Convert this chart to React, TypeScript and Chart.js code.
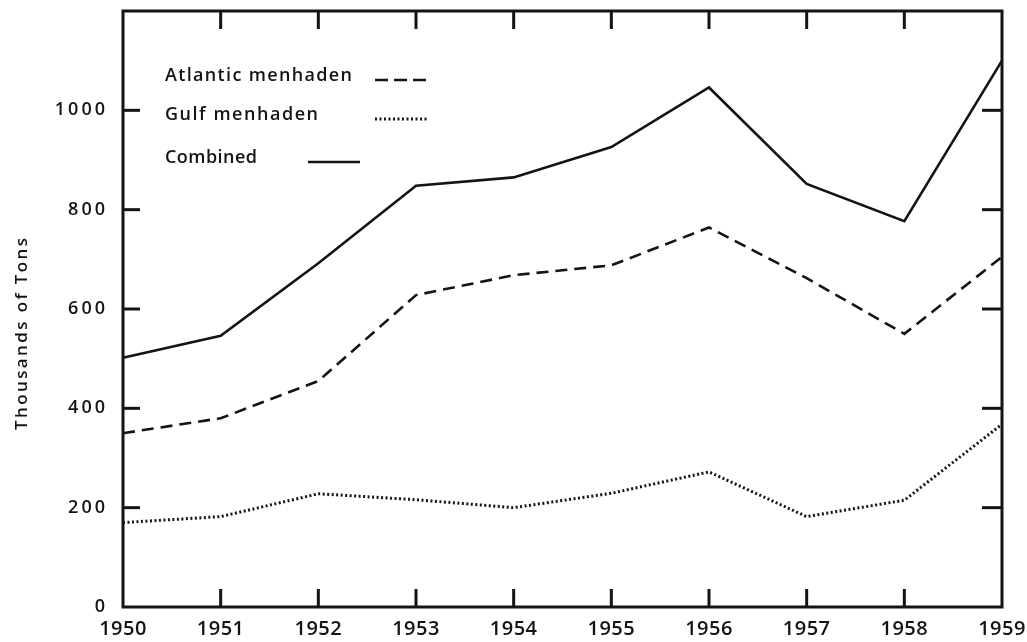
import React, { useEffect, useRef } from "react";
import { Chart, registerables } from "chart.js";

Chart.register(...registerables);

const years = ["1950", "1951", "1952", "1953", "1954", "1955", "1956", "1957", "1958", "1959"];
const atlantic = [350, 380, 455, 628, 668, 688, 764, 662, 550, 705];
const gulf = [170, 182, 228, 216, 200, 229, 272, 182, 215, 368];
const combined = [502, 546, 692, 848, 865, 926, 1046, 852, 777, 1100];
const yTickValues = [0, 200, 400, 600, 800, 1000, 1200];
const legendLabels = ["Atlantic menhaden", "Gulf menhaden", "Combined"];
const yTitle = "Thousands of Tons";

const INK = "#141414";
const FONT = "'Open Sans', 'DejaVu Sans', sans-serif";
const WEIGHT = "600";

// draw text stretched (via letter spacing) to a target width
function fitText(ctx: any, text: string, x: number, y: number, target: number) {
  ctx.letterSpacing = "0px";
  const w = ctx.measureText(text).width;
  const n = Math.max(1, text.length - 1);
  const sp = Math.max(0, (target - w) / n);
  ctx.letterSpacing = sp + "px";
  ctx.fillText(text, x, y);
  ctx.letterSpacing = "0px";
}

const framePlugin = {
  id: "frameAndLabels",
  beforeDraw(chart: any) {
    chart.ctx.letterSpacing = "0.5px";
  },
  afterDatasetsDraw(chart: any) {
    chart.ctx.letterSpacing = "3px";
  },
  afterDraw(chart: any) {
    const ctx = chart.ctx;
    const { left, right, top, bottom } = chart.chartArea;
    ctx.save();
    ctx.letterSpacing = "0px";
    ctx.strokeStyle = INK;
    ctx.setLineDash([]);
    ctx.lineCap = "butt";
    ctx.lineWidth = 3;
    ctx.strokeRect(left, top, right - left, bottom - top);
    const seg = (x1: number, y1: number, x2: number, y2: number) => {
      ctx.beginPath();
      ctx.moveTo(x1, y1);
      ctx.lineTo(x2, y2);
      ctx.stroke();
    };
    const xs = chart.scales.x;
    for (let i = 1; i < years.length - 1; i++) {
      const px = xs.getPixelForValue(i);
      seg(px, top, px, top + 18);
      seg(px, bottom, px, bottom - 18);
    }
    const ys = chart.scales.y;
    for (const v of yTickValues) {
      if (v <= 0 || v >= 1200) continue;
      const py = ys.getPixelForValue(v);
      seg(left, py, left + 17, py);
      seg(right - 20, py, right, py);
    }

    // legend
    ctx.fillStyle = INK;
    ctx.font = WEIGHT + " 18px " + FONT;
    ctx.textAlign = "left";
    ctx.textBaseline = "alphabetic";
    fitText(ctx, legendLabels[0], 165, 81, 187);
    fitText(ctx, legendLabels[1], 165, 120, 153);
    fitText(ctx, legendLabels[2], 165, 163, 92);
    ctx.lineWidth = 2.6;
    ctx.setLineDash([13, 6]);
    seg(375, 80, 428, 80);
    ctx.setLineDash([2, 2.5]);
    ctx.lineWidth = 3;
    seg(375, 119, 428, 119);
    ctx.setLineDash([]);
    ctx.lineWidth = 2.6;
    seg(308, 162, 360, 162);

    // y title
    ctx.translate(22, 430);
    ctx.rotate(-Math.PI / 2);
    ctx.font = WEIGHT + " 17px " + FONT;
    ctx.textAlign = "left";
    ctx.textBaseline = "middle";
    fitText(ctx, yTitle, 0, 0, 192);
    ctx.restore();
    ctx.letterSpacing = "0px";
  },
};

export default function App() {
  const ref = useRef<HTMLCanvasElement | null>(null);
  useEffect(() => {
    if (!ref.current) return;
    const chart = new Chart(ref.current, {
      type: "line",
      data: {
        labels: years,
        datasets: [
          {
            label: legendLabels[0],
            data: atlantic,
            borderColor: INK,
            borderWidth: 2.6,
            borderDash: [12, 7],
            pointRadius: 0,
            tension: 0,
            fill: false,
          },
          {
            label: legendLabels[1],
            data: gulf,
            borderColor: INK,
            borderWidth: 3,
            borderDash: [2, 2.5],
            pointRadius: 0,
            tension: 0,
            fill: false,
          },
          {
            label: legendLabels[2],
            data: combined,
            borderColor: INK,
            borderWidth: 2.6,
            pointRadius: 0,
            tension: 0,
            fill: false,
          },
        ],
      },
      options: {
        responsive: false,
        animation: false,
        layout: { autoPadding: false, padding: { left: 0, top: 11, right: 25, bottom: 0 } },
        plugins: {
          legend: { display: false },
          tooltip: { enabled: false },
          title: { display: false },
        },
        scales: {
          x: {
            type: "category",
            offset: false,
            grid: { display: false, drawTicks: false },
            border: { display: false },
            ticks: {
              z: 0,
              color: INK,
              font: { family: FONT, size: 20, weight: WEIGHT },
              padding: 10,
              maxRotation: 0,
              autoSkip: false,
            },
            afterFit: (s: any) => {
              s.height = 35;
              s.paddingLeft = 0;
              s.paddingRight = 0;
            },
          },
          y: {
            min: 0,
            max: 1200,
            grid: { display: false, drawTicks: false },
            border: { display: false },
            ticks: {
              z: 1,
              stepSize: 200,
              color: INK,
              font: { family: FONT, size: 18, weight: WEIGHT },
              padding: 15,
              callback: (v: any) => (Number(v) >= 1200 ? "" : String(v)),
            },
            afterFit: (s: any) => {
              s.width = 123;
              s.paddingTop = 0;
              s.paddingBottom = 0;
            },
          },
        },
      },
      plugins: [framePlugin],
    });
    return () => chart.destroy();
  }, []);
  return (
    <div style={{ position: "fixed", left: 0, top: 0, width: 1027, height: 642, background: "#fff" }}>
      <canvas ref={ref} width={1027} height={642} style={{ display: "block" }} />
    </div>
  );
}
